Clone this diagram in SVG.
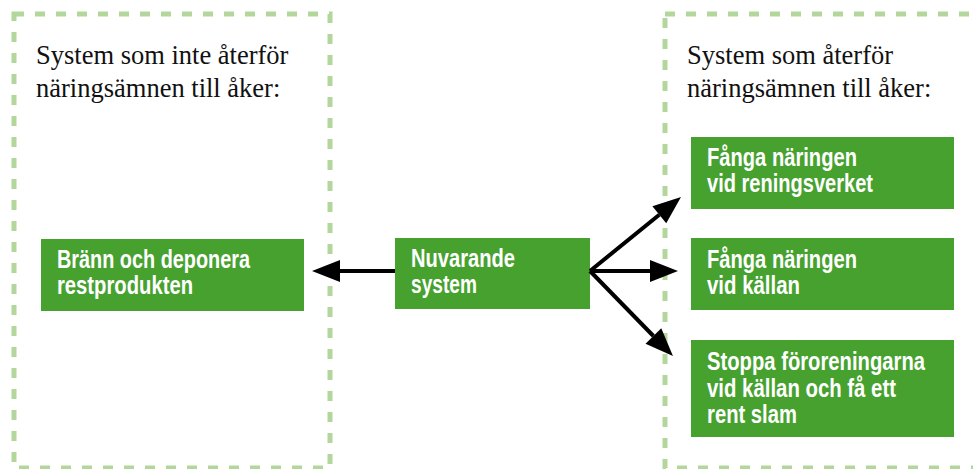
<svg xmlns="http://www.w3.org/2000/svg" width="973" height="469" viewBox="0 0 973 469">
<style>
.frame{fill:none;stroke:#b3d69c;stroke-width:5;stroke-dasharray:10 11}
.box{fill:#46a12f}
.lbl{font-family:"Liberation Sans",Arial,sans-serif;font-weight:bold;font-size:25px;fill:#ffffff}
.hdr{font-family:"Liberation Serif","Times New Roman",serif;font-size:26.5px;fill:#111111}
.conn{stroke:#000000;stroke-width:4;fill:none;marker-end:url(#ah)}
</style>
<defs>
<marker id="ah" markerUnits="userSpaceOnUse" markerWidth="28" markerHeight="22" refX="0" refY="11" orient="auto" overflow="visible">
<path d="M0,0 L28,11 L0,22 z" fill="#000000"/>
</marker>
</defs>
<g id="group-left">
<rect class="frame" x="14" y="14" width="316" height="454"/>
<text class="hdr"><tspan x="36" y="64">System som inte återför</tspan><tspan x="36" y="97">näringsämnen till åker:</tspan></text>
</g>
<g id="group-right">
<rect class="frame" x="665" y="14" width="330" height="454"/>
<text class="hdr"><tspan x="687" y="64">System som återför</tspan><tspan x="687" y="97">näringsämnen till åker:</tspan></text>
</g>
<g id="node-brann">
<rect class="box" x="41" y="239" width="263" height="72"/>
<text class="lbl"><tspan x="57" y="268" textLength="193" lengthAdjust="spacingAndGlyphs">Bränn och deponera</tspan><tspan x="57" y="294" textLength="136" lengthAdjust="spacingAndGlyphs">restprodukten</tspan></text>
</g>
<g id="node-nuvarande">
<rect class="box" x="395" y="238" width="195" height="71"/>
<text class="lbl"><tspan x="411" y="267" textLength="104" lengthAdjust="spacingAndGlyphs">Nuvarande</tspan><tspan x="411" y="293" textLength="66" lengthAdjust="spacingAndGlyphs">system</tspan></text>
</g>
<g id="node-fanga-verket">
<rect class="box" x="691" y="137" width="263" height="72"/>
<text class="lbl"><tspan x="707" y="166" textLength="150" lengthAdjust="spacingAndGlyphs">Fånga näringen</tspan><tspan x="707" y="192" textLength="166" lengthAdjust="spacingAndGlyphs">vid reningsverket</tspan></text>
</g>
<g id="node-fanga-kallan">
<rect class="box" x="691" y="238" width="263" height="72"/>
<text class="lbl"><tspan x="707" y="268" textLength="150" lengthAdjust="spacingAndGlyphs">Fånga näringen</tspan><tspan x="707" y="294" textLength="93" lengthAdjust="spacingAndGlyphs">vid källan</tspan></text>
</g>
<g id="node-stoppa">
<rect class="box" x="691" y="340" width="263" height="97"/>
<text class="lbl"><tspan x="707" y="370" textLength="218" lengthAdjust="spacingAndGlyphs">Stoppa föroreningarna</tspan><tspan x="707" y="397" textLength="189" lengthAdjust="spacingAndGlyphs">vid källan och få ett</tspan><tspan x="707" y="423" textLength="90" lengthAdjust="spacingAndGlyphs">rent slam</tspan></text>
</g>
<g id="connectors">
<path class="conn" d="M395,271 L340,271"/>
<path class="conn" d="M590,271 L659.3,214.7"/>
<path class="conn" d="M590,271 L650,271"/>
<path class="conn" d="M590,271 L653.4,336"/>
</g>
</svg>
